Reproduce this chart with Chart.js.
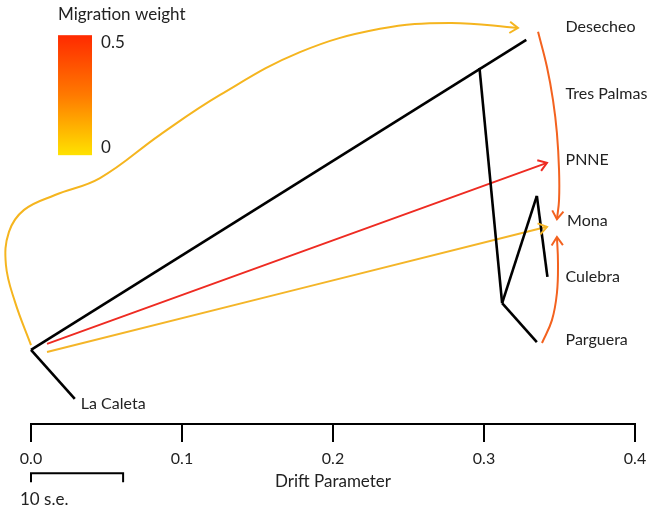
<!DOCTYPE html>
<html>
<head>
<meta charset="utf-8">
<script src="https://cdn.jsdelivr.net/npm/chart.js@4/dist/chart.umd.min.js"></script>
<style>
    html, body { margin: 0; padding: 0; background: #fff; }
    canvas { display: block; }
</style>
</head>
<body>
<canvas id="treeChart" width="648" height="513"></canvas>
<script>
// x = drift parameter, y = vertical tree position (0 = axis, 1 = top)
const nodeNames = ["root", "La Caleta", "Desecheo", "n1", "n2", "n3", "Culebra", "Parguera"];
const nodeX = [0, 0.029, 0.328, 0.297, 0.312, 0.335, 0.342, 0.335];
const nodeY = [0.175, 0.059, 0.906, 0.840, 0.285, 0.538, 0.347, 0.193];
const treeEdges = [[0, 1], [0, 2], [3, 4], [4, 5], [5, 6], [4, 7]];

const tipNames = ["Desecheo", "Tres Palmas", "PNNE", "Mona", "Culebra", "Parguera", "La Caleta"];
const tipLabelX = [0.354, 0.354, 0.354, 0.355, 0.354, 0.354, 0.033];
const tipLabelY = [0.936, 0.778, 0.623, 0.479, 0.347, 0.198, 0.047];

// migration edges (points read along each arrow)
const migArcX = [0, -0.0106, -0.0166, -0.0146, -0.0046, 0.0159, 0.0457, 0.0854, 0.1252, 0.1781, 0.2311, 0.2775, 0.3225];
const migArcY = [0.186, 0.288, 0.375, 0.453, 0.505, 0.540, 0.580, 0.682, 0.776, 0.877, 0.932, 0.946, 0.934];
const migPnneX = [0.0106, 0.3417];
const migPnneY = [0.189, 0.616];
const migMonaX = [0.0106, 0.3417];
const migMonaY = [0.170, 0.465];
const migDesMonaX = [0.3358, 0.3417, 0.3457, 0.3483, 0.3497, 0.3497, 0.3483];
const migDesMonaY = [0.925, 0.842, 0.764, 0.686, 0.599, 0.528, 0.483];
const migPargMonaX = [0.3384, 0.345, 0.3483, 0.349, 0.3483];
const migPargMonaY = [0.191, 0.245, 0.309, 0.380, 0.441];
const migColors = ["#f5b51f", "#ee2b22", "#f4b528", "#f3621f", "#f3621f"];

const xTicks = [0, 0.1, 0.2, 0.3, 0.4];
const seLength = 0.061;
const weightLabels = ["0.5", "0"];

const textColor = "#222";
const fontFamily = "Lato, 'Open Sans', sans-serif";

function toPoints(xs, ys) {
    return xs.map((x, i) => ({ x: x, y: ys[i] }));
}

let datasets = [];

for (let edge of treeEdges) {
    datasets.push({
        data: [
            { x: nodeX[edge[0]], y: nodeY[edge[0]] },
            { x: nodeX[edge[1]], y: nodeY[edge[1]] },
        ],
        showLine: true,
        borderColor: "#000",
        borderWidth: 2.6,
        pointRadius: 0,
        clip: false,
    });
}

const migrations = [
    [migArcX, migArcY],
    [migPnneX, migPnneY],
    [migMonaX, migMonaY],
    [migDesMonaX, migDesMonaY],
    [migPargMonaX, migPargMonaY],
];

migrations.forEach((m, i) => {
    datasets.push({
        data: toPoints(m[0], m[1]),
        showLine: true,
        borderColor: migColors[i],
        borderWidth: 2,
        pointRadius: 0,
        tension: 0.4,
        clip: false,
        isMigration: true,
    });
});

// arrow heads, tip labels, legend and scale bar
const treeDecor = {
    id: "treeDecor",
    afterDatasetsDraw(chart) {
        const { ctx, scales: { x, y } } = chart;
        ctx.save();

        chart.data.datasets.forEach((ds, i) => {
            if (!ds.isMigration) return;
            let pts = chart.getDatasetMeta(i).data;
            let end = pts[pts.length - 1];
            let prev = pts[pts.length - 2];
            let angle = Math.atan2(end.y - prev.y, end.x - prev.x);
            let len = 10;
            ctx.strokeStyle = ds.borderColor;
            ctx.lineWidth = 2;
            ctx.beginPath();
            ctx.moveTo(end.x - len * Math.cos(angle - 0.6), end.y - len * Math.sin(angle - 0.6));
            ctx.lineTo(end.x, end.y);
            ctx.lineTo(end.x - len * Math.cos(angle + 0.6), end.y - len * Math.sin(angle + 0.6));
            ctx.stroke();
        });

        ctx.fillStyle = textColor;
        ctx.font = "16px " + fontFamily;
        ctx.textAlign = "left";
        ctx.textBaseline = "middle";
        for (let i = 0; i < tipNames.length; i++) {
            ctx.fillText(tipNames[i], x.getPixelForValue(tipLabelX[i]), y.getPixelForValue(tipLabelY[i]));
        }

        // migration weight legend
        let lx0 = x.getPixelForValue(0.0179);
        let lx1 = x.getPixelForValue(0.0404);
        let ly0 = y.getPixelForValue(0.917);
        let ly1 = y.getPixelForValue(0.634);
        let grad = ctx.createLinearGradient(0, ly0, 0, ly1);
        grad.addColorStop(0, "#ff2a00");
        grad.addColorStop(0.5, "#ff7a00");
        grad.addColorStop(1, "#ffe200");
        ctx.fillStyle = grad;
        ctx.fillRect(lx0, ly0, lx1 - lx0, ly1 - ly0);

        ctx.fillStyle = textColor;
        ctx.font = "17px " + fontFamily;
        ctx.fillText("Migration weight", lx0, y.getPixelForValue(0.965));
        ctx.fillText(weightLabels[0], x.getPixelForValue(0.0464), y.getPixelForValue(0.899));
        ctx.fillText(weightLabels[1], x.getPixelForValue(0.0464), y.getPixelForValue(0.653));

        // 10 s.e. scale bar
        let sx0 = x.getPixelForValue(0);
        let sx1 = x.getPixelForValue(seLength);
        let sy = y.getPixelForValue(-0.116);
        ctx.strokeStyle = "#000";
        ctx.lineWidth = 2;
        ctx.beginPath();
        ctx.moveTo(sx0, sy + 9);
        ctx.lineTo(sx0, sy);
        ctx.lineTo(sx1, sy);
        ctx.lineTo(sx1, sy + 9);
        ctx.stroke();
        ctx.fillText("10 s.e.", sx0 - 11, y.getPixelForValue(-0.179));

        ctx.restore();
    },
};

new Chart(document.getElementById("treeChart"), {
    type: "scatter",
    data: { datasets: datasets },
    options: {
        responsive: false,
        devicePixelRatio: 1,
        animation: false,
        layout: { padding: { left: 31, right: 13, top: 0, bottom: 0 } },
        plugins: {
            legend: { display: false },
            tooltip: { enabled: false },
        },
        scales: {
            x: {
                type: "linear",
                min: 0,
                max: 0.4,
                afterFit(scale) {
                    scale.height = 89;
                    scale.paddingLeft = 0;
                    scale.paddingRight = 0;
                },
                afterBuildTicks(scale) { scale.ticks = xTicks.map(v => ({ value: v })); },
                border: { display: true, color: "#000", width: 2 },
                grid: { drawOnChartArea: false, drawTicks: true, tickLength: 18, color: "#000", lineWidth: 2 },
                ticks: {
                    color: textColor,
                    padding: 7,
                    maxRotation: 0,
                    font: { family: fontFamily, size: 16 },
                    callback: v => v.toFixed(1),
                },
                title: {
                    display: true,
                    text: "Drift Parameter",
                    color: textColor,
                    font: { family: fontFamily, size: 17 },
                    padding: { top: 4, bottom: 21 },
                },
            },
            y: {
                type: "linear",
                display: false,
                min: 0,
                max: 1,
            },
        },
    },
    plugins: [treeDecor],
});
</script>
</body>
</html>
